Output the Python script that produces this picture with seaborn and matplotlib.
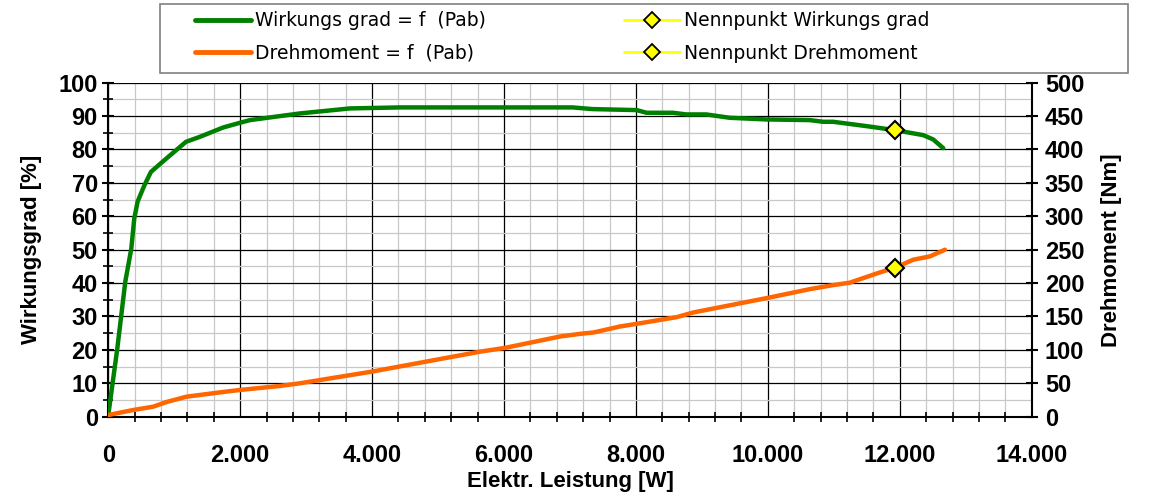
import matplotlib
matplotlib.use("Agg")
import matplotlib.pyplot as plt
import seaborn as sns
import pandas as pd
from matplotlib.lines import Line2D
from matplotlib.patches import Rectangle
from matplotlib.ticker import MultipleLocator, FixedLocator

# Wirkungsgrad ueber elektr. Leistung
p_eta = [0, 137, 258, 349, 394, 445, 546, 647, 875, 1178, 1390, 1743, 1997, 2148, 2906, 3664,
         4422, 5500, 7040, 7340, 8010, 8160, 8560, 8763, 9066, 9420, 9977, 10634, 10836, 10988,
         11494, 11927, 12356, 12507, 12659]
eta = [0.5, 20.4, 40.4, 50.3, 59.3, 64.4, 69.2, 73.3, 77.2, 82.3, 83.8, 86.6, 88.0, 88.8, 90.8, 92.3,
       92.6, 92.6, 92.6, 92.1, 91.8, 91.0, 91.0, 90.5, 90.5, 89.5, 89.0, 88.8, 88.3, 88.3,
       87.0, 85.8, 84.3, 83.0, 80.4]

# Drehmoment ueber elektr. Leistung
p_m = [0, 379, 530, 682, 885, 1188, 1743, 1997, 2603, 2906, 3993, 5635, 6014, 6848, 7151, 7354,
       7757, 8010, 8617, 8869, 10006, 10638, 10991, 11241, 11699, 11927, 12204, 12457, 12685]
torque = [2.5, 10, 12.5, 15, 22, 30, 37, 40, 46, 50, 67.4, 97.3, 103, 120, 124, 126,
          135, 139, 149, 156, 178, 191, 197, 200.6, 216, 223, 235, 240, 250]

# Nennpunkt
p_nenn = [11927]
eta_nenn = [85.8]
m_nenn = [223]

x_ticks = [0, 2000, 4000, 6000, 8000, 10000, 12000, 14000]
x_ticklabels = ["0", "2.000", "4.000", "6.000", "8.000", "10.000", "12.000", "14.000"]

sns.set_style("white")
plt.rcParams['font.family'] = ['Liberation Sans', 'DejaVu Sans']
plt.rcParams.update({"text.color": "black", "axes.labelcolor": "black",
                     "xtick.color": "black", "ytick.color": "black"})

eta_df = pd.DataFrame({"P": p_eta, "eta": eta})
m_df = pd.DataFrame({"P": p_m, "M": torque})

fig = plt.figure(figsize=(11.53, 4.97), dpi=100)
ax = fig.add_axes([0.0939, 0.1616, 0.8009, 0.672])
ax2 = ax.twinx()

green = "#008000"
orange = "#ff6600"

sns.lineplot(x="P", y="eta", data=eta_df, ax=ax, color=green, lw=3.2, sort=False, estimator=None, zorder=3)
sns.lineplot(x="P", y="M", data=m_df, ax=ax2, color=orange, lw=3.2, sort=False, estimator=None, zorder=3)
ax.plot(p_nenn, eta_nenn, ls="none", marker="D", ms=9, mfc="#ffff00", mec="black", mew=1.5, zorder=5)
ax2.plot(p_nenn, m_nenn, ls="none", marker="D", ms=9, mfc="#ffff00", mec="black", mew=1.5, zorder=5)

ax.set_xlim(0, 14000)
ax.set_ylim(0, 100)
ax2.set_ylim(0, 500)

ax.xaxis.set_major_locator(FixedLocator(x_ticks))
ax.set_xticklabels(x_ticklabels)
ax.xaxis.set_minor_locator(MultipleLocator(400))
ax.yaxis.set_major_locator(MultipleLocator(10))
ax.yaxis.set_minor_locator(MultipleLocator(5))
ax2.yaxis.set_major_locator(MultipleLocator(50))

ax.grid(which="major", color="black", lw=0.9)
ax.grid(which="minor", color="#c8c8c8", lw=0.9)
ax.set_axisbelow(True)
ax2.grid(False)

for a in (ax, ax2):
    for s in a.spines.values():
        s.set_visible(False)
ax.spines["left"].set_visible(True)
ax.spines["bottom"].set_visible(True)
ax2.spines["right"].set_visible(True)
for s in (ax.spines["left"], ax.spines["bottom"], ax2.spines["right"]):
    s.set_color("black")
    s.set_linewidth(1.5)

ax.tick_params(axis="x", which="major", direction="inout", length=9, width=1.5, pad=15, labelsize=17)
ax.tick_params(axis="x", which="minor", direction="inout", length=7, width=1.2, bottom=True)
ax.tick_params(axis="y", which="major", direction="inout", length=9, width=1.5, pad=3, labelsize=17, left=True)
ax.tick_params(axis="y", which="minor", direction="inout", length=7, width=1.2, left=True)
ax2.tick_params(axis="y", which="major", direction="inout", length=9, width=1.5, pad=5, labelsize=17, right=True)
for lbl in ax.get_xticklabels() + ax.get_yticklabels() + ax2.get_yticklabels():
    lbl.set_fontweight("bold")

ax.set_xlabel("Elektr. Leistung [W]", fontsize=16, fontweight="bold", labelpad=3)
ax.set_ylabel("Wirkungsgrad [%]", fontsize=16, fontweight="bold", labelpad=12)
ax2.set_ylabel("Drehmoment [Nm]", fontsize=16, fontweight="bold", labelpad=12)

# Legendenrahmen
fig.patches.append(Rectangle((160 / 1153, 1 - 73 / 497), 968 / 1153, 69 / 497,
                             transform=fig.transFigure, fill=False, edgecolor="#808080", lw=1.2))

handles = [
    Line2D([], [], color=green, lw=3.5),
    Line2D([], [], color=orange, lw=3.5),
    Line2D([], [], color="#ffff00", lw=2, marker="D", ms=8, mfc="#ffff00", mec="black", mew=1.3),
    Line2D([], [], color="#ffff00", lw=2, marker="D", ms=8, mfc="#ffff00", mec="black", mew=1.3),
]
labels = ["Wirkungs grad = f  (Pab)", "Drehmoment = f  (Pab)",
          "Nennpunkt Wirkungs grad", "Nennpunkt Drehmoment"]
fig.legend(handles, labels, ncol=2, loc="center left", bbox_to_anchor=(195 / 1153, 1 - 37 / 497),
           frameon=False, prop={"family": "DejaVu Sans", "size": 13.5},
           handlelength=3.0, handletextpad=0.2, columnspacing=7.35, labelspacing=0.72,
           borderpad=0, borderaxespad=0)

fig.savefig("out.png", dpi=100)
